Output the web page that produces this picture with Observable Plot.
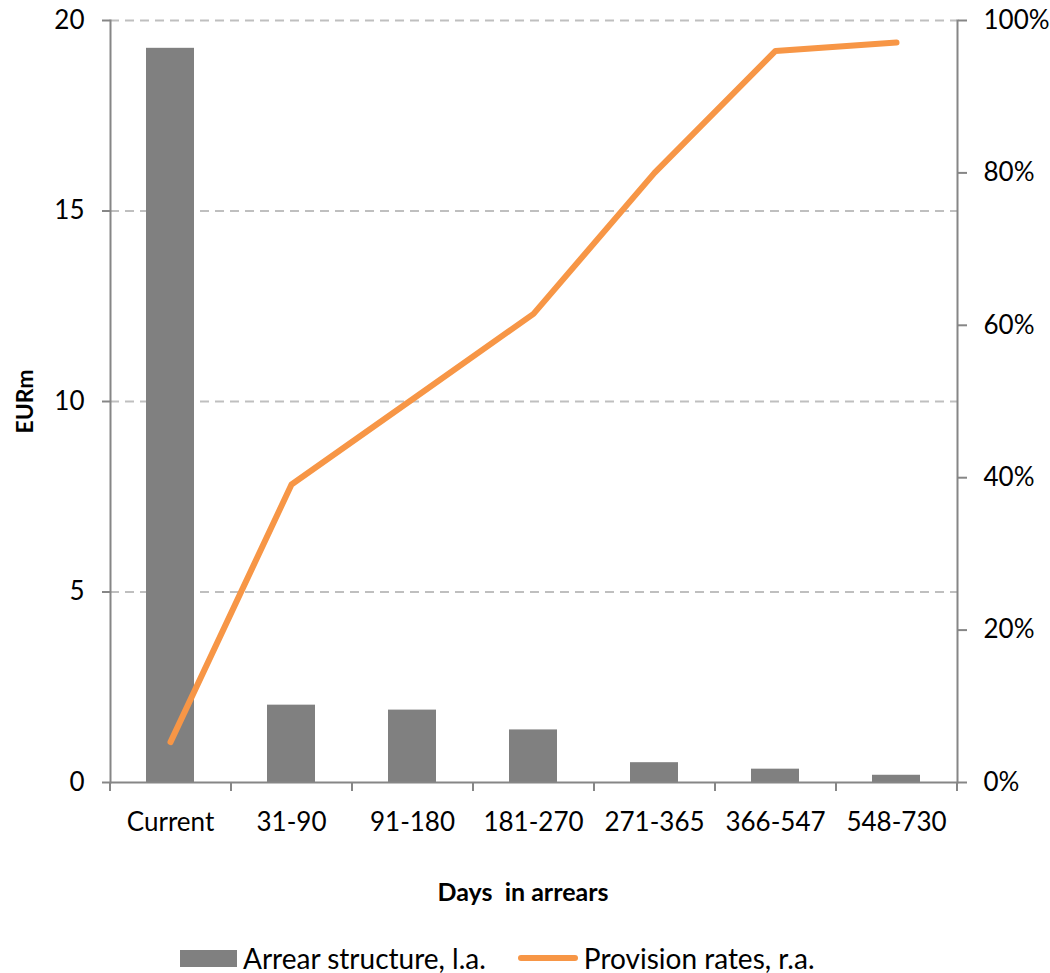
<!DOCTYPE html>
<html>
<head>
<meta charset="utf-8">
<script src="https://cdn.jsdelivr.net/npm/d3@7"></script>
<script src="https://cdn.jsdelivr.net/npm/@observablehq/plot@0.6"></script>
<style>
  body { margin: 0; background: #fff; font-family: Lato, "Open Sans", sans-serif; overflow: hidden; }
  #wrap { position: relative; width: 1050px; height: 973px; }
  .legend { position: absolute; left: 180px; top: 945px; height: 26px; line-height: 26px; display: flex; align-items: center; font-size: 28px; color: #000; white-space: nowrap; }
  .legend .sw-bar { width: 57px; height: 17px; background: #808080; margin-right: 6px; }
  .legend .sw-line { width: 60px; height: 6px; border-radius: 3px; background: #F79646; margin-left: 32px; margin-right: 6px; }
</style>
</head>
<body>
<div id="wrap"></div>
<script>
// Arrear buckets (days in arrears)
const buckets = ["Current", "31-90", "91-180", "181-270", "271-365", "366-547", "548-730"];
// Arrear structure, EURm (left axis)
const arrearStructure = [19.27, 2.03, 1.90, 1.38, 0.52, 0.35, 0.19];
// Provision rates, % (right axis)
const provisionRates = [5.3, 39.1, 50.3, 61.5, 80.0, 96.0, 97.1];
// Left-axis ticks (EURm) and right-axis ticks (%)
const leftTicks = [0, 5, 10, 15, 20];
const rightTicks = [0, 20, 40, 60, 80, 100];

const rows = buckets.map((b, i) => ({bucket: b, amount: arrearStructure[i], rate: provisionRates[i]}));

const leftMax = 20, rightMax = 100;
const toLeft = (p) => p / rightMax * leftMax;   // map % onto the EURm scale

const W = 1050, H = 935, mL = 110, mR = 93;
const step = (W - mL - mR) / buckets.length;
const axisGrey = "#868686";

const chart = Plot.plot({
  width: W,
  height: H,
  marginLeft: mL,
  marginRight: mR,
  marginTop: 20,
  marginBottom: 153,
  style: {fontFamily: "Lato, 'Open Sans', sans-serif", fontSize: "26px", color: "#000", background: "#fff"},
  x: {type: "band", domain: buckets, paddingInner: 0.6, paddingOuter: 0.3},
  y: {domain: [0, leftMax]},
  marks: [
    // dashed horizontal gridlines
    Plot.gridY(leftTicks.filter(d => d > 0), {stroke: "#bfbfbf", strokeOpacity: 1, strokeWidth: 2, strokeDasharray: "9,6"}),
    // bars: arrear structure
    Plot.barY(rows, {x: "bucket", y: "amount", fill: "#808080"}),
    // axis lines
    Plot.frame({anchor: "left", stroke: axisGrey, strokeWidth: 2}),
    Plot.frame({anchor: "right", stroke: axisGrey, strokeWidth: 2}),
    Plot.ruleY([0], {stroke: axisGrey, strokeWidth: 2}),
    // left axis (EURm)
    Plot.axisY(leftTicks, {anchor: "left", tickSize: 8, tickPadding: 18, stroke: axisGrey, strokeWidth: 2, label: null, fontSize: 26}),
    // right axis (%), sharing the same vertical scale
    Plot.axisY(rightTicks.map(toLeft), {anchor: "right", tickSize: 9, tickPadding: 17, stroke: axisGrey, strokeWidth: 2, label: null, fontSize: 26,
      tickFormat: (d) => `${Math.round(d / leftMax * rightMax)}%`}),
    // category labels
    Plot.axisX({anchor: "bottom", tickSize: 0, tickPadding: 30, label: null, fontSize: 26}),
    // tick marks between categories
    Plot.axisX(buckets, {anchor: "bottom", tickSize: 9, stroke: axisGrey, strokeWidth: 2, tickFormat: () => "", label: null, dx: -step / 2}),
    Plot.axisX([buckets[buckets.length - 1]], {anchor: "bottom", tickSize: 9, stroke: axisGrey, strokeWidth: 2, tickFormat: () => "", label: null, dx: step / 2}),
    // provision rate line
    Plot.line(rows, {x: "bucket", y: (d) => toLeft(d.rate), stroke: "#F79646", strokeWidth: 6, strokeLinecap: "round", strokeLinejoin: "round"}),
    // axis titles
    Plot.text(["EURm"], {frameAnchor: "left", rotate: -90, dx: -85, fontWeight: "bold", fontSize: 23, textAnchor: "middle", lineAnchor: "middle"}),
    Plot.text(["Days\u00A0 in arrears"], {frameAnchor: "bottom", dy: 110, dx: -11, fontWeight: "bold", fontSize: 25, textAnchor: "middle", lineAnchor: "middle"})
  ]
});

const wrap = document.getElementById("wrap");
wrap.appendChild(chart);

const legend = document.createElement("div");
legend.className = "legend";
legend.innerHTML = `<div class="sw-bar"></div><span>Arrear structure, l.a.</span><div class="sw-line"></div><span>Provision rates, r.a.</span>`;
wrap.appendChild(legend);
</script>
</body>
</html>
